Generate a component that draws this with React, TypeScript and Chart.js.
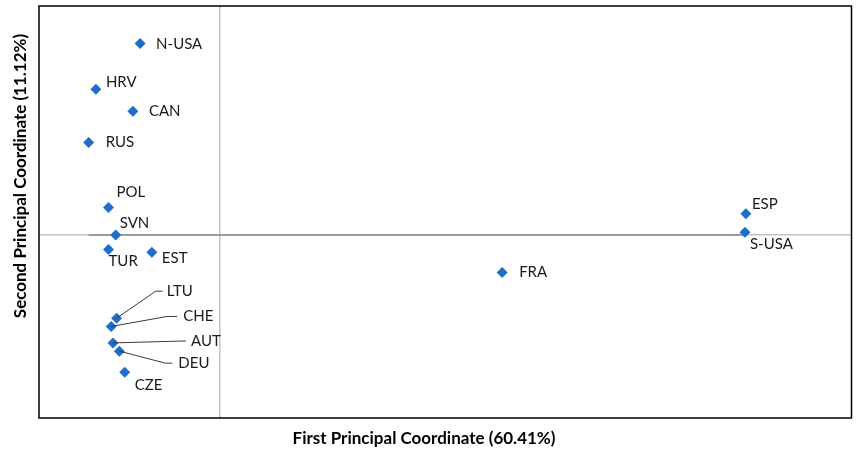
import React, { useEffect, useRef } from "react";
import { Chart, registerables } from "chart.js";

Chart.register(...registerables);

// ---- data ----
const countries = ["N-USA", "HRV", "CAN", "RUS", "POL", "SVN", "TUR", "EST", "LTU", "CHE", "AUT", "DEU", "CZE", "ESP", "S-USA", "FRA"];
const firstCoord = [-0.088, -0.137, -0.096, -0.145, -0.123, -0.115, -0.123, -0.075, -0.114, -0.120, -0.118, -0.111, -0.105, 0.583, 0.582, 0.313];
const secondCoord = [0.209, 0.159, 0.135, 0.101, 0.030, 0.000, -0.016, -0.019, -0.091, -0.100, -0.118, -0.127, -0.150, 0.023, 0.003, -0.041];
const xTitle = "First Principal Coordinate (60.41%)";
const yTitle = "Second Principal Coordinate (11.12%)";
const xRange = [-0.2, 0.7];
const yRange = [-0.2, 0.25];

// ---- label layout (pixel offsets of text from marker) ----
const labelLayout: Record<string, { dx: number; dy: number; leader?: [number, number] }> = {
  "N-USA": { dx: 16, dy: 1 },
  HRV: { dx: 10, dy: -7 },
  CAN: { dx: 16, dy: 0 },
  RUS: { dx: 17, dy: 0 },
  POL: { dx: 8, dy: -15 },
  SVN: { dx: 4, dy: -12 },
  TUR: { dx: 0, dy: 12 },
  EST: { dx: 10, dy: 6 },
  LTU: { dx: 50, dy: -27, leader: [11, 4] },
  CHE: { dx: 72, dy: -10, leader: [16, 6] },
  AUT: { dx: 78, dy: -2, leader: [5, 5] },
  DEU: { dx: 59, dy: 12, leader: [13, 6] },
  CZE: { dx: 10, dy: 13 },
  ESP: { dx: 6, dy: -10 },
  "S-USA": { dx: 5, dy: 12 },
  FRA: { dx: 17, dy: 0 },
};

const FONT = "Lato, 'Open Sans', sans-serif";

const overlayPlugin = {
  id: "overlay",
  afterDatasetsDraw(chart: any) {
    const { ctx, chartArea } = chart;
    const { left, top, right, bottom } = chartArea;
    ctx.save();
    // plot border
    ctx.strokeStyle = "#000";
    ctx.lineWidth = 1.5;
    ctx.strokeRect(left, top, right - left, bottom - top);

    // labels
    const meta = chart.getDatasetMeta(1);
    ctx.font = `15px ${FONT}`;
    ctx.fillStyle = "#1a1a1a";
    ctx.textAlign = "left";
    ctx.textBaseline = "middle";
    meta.data.forEach((pt: any, i: number) => {
      const name = countries[i];
      const lay = labelLayout[name];
      const tx = pt.x + lay.dx;
      const ty = pt.y + lay.dy;
      if (lay.leader) {
        ctx.beginPath();
        ctx.strokeStyle = "#3a3a3a";
        ctx.lineWidth = 1;
        ctx.moveTo(pt.x, pt.y);
        ctx.lineTo(tx - lay.leader[0], ty);
        ctx.lineTo(tx - lay.leader[1], ty);
        ctx.stroke();
      }
      ctx.fillText(name, tx, ty);
    });

    // axis titles
    ctx.font = `bold 17px ${FONT}`;
    ctx.fillStyle = "#000";
    ctx.textAlign = "center";
    ctx.fillText(xTitle, 424, 439);
    ctx.translate(21, 176);
    ctx.rotate(-Math.PI / 2);
    ctx.fillText(yTitle, 0, 0);
    ctx.restore();
  },
};

export default function App() {
  const canvasRef = useRef<HTMLCanvasElement | null>(null);

  useEffect(() => {
    if (!canvasRef.current) return;
    const points = firstCoord.map((x, i) => ({ x, y: secondCoord[i] }));
    const xMin = Math.min(...firstCoord);
    const xMax = Math.max(...firstCoord);
    const zeroGrid = (ctx: any) =>
      Math.abs(ctx.tick?.value ?? 1) < 1e-9 ? "#c4c4c4" : "rgba(0,0,0,0)";

    const chart = new Chart(canvasRef.current, {
      type: "scatter",
      data: {
        datasets: [
          {
            type: "line",
            data: [
              { x: xMin, y: 0 },
              { x: xMax, y: 0 },
            ],
            borderColor: "#8a8a8a",
            borderWidth: 1.5,
            pointRadius: 0,
            order: 1,
          } as any,
          {
            data: points,
            pointStyle: "rectRot",
            pointRadius: 5.5,
            pointBackgroundColor: "#1f6fca",
            pointBorderColor: "#1f6fca",
            pointBorderWidth: 0,
            order: 0,
          },
        ],
      },
      options: {
        responsive: false,
        animation: false,
        layout: { padding: { left: 39, top: 6, right: 1, bottom: 32 } },
        plugins: { legend: { display: false }, tooltip: { enabled: false } },
        scales: {
          x: {
            type: "linear",
            min: xRange[0],
            max: xRange[1],
            ticks: { display: false, stepSize: 0.1 },
            border: { display: false },
            grid: { color: zeroGrid, lineWidth: 1.5, drawTicks: false },
          },
          y: {
            type: "linear",
            min: yRange[0],
            max: yRange[1],
            ticks: { display: false, stepSize: 0.05 },
            border: { display: false },
            grid: { color: zeroGrid, lineWidth: 1.5, drawTicks: false },
          },
        },
      },
      plugins: [overlayPlugin],
    });
    return () => chart.destroy();
  }, []);

  return (
    <div style={{ position: "absolute", left: 0, top: 0, width: 857, height: 450, background: "#fff" }}>
      <canvas ref={canvasRef} width={857} height={450} style={{ width: 857, height: 450 }} />
    </div>
  );
}
